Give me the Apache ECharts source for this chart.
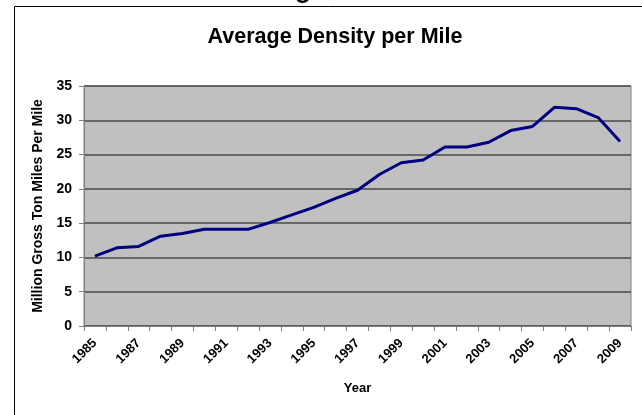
<!DOCTYPE html>
<html>
<head>
<meta charset="utf-8">
<script src="https://cdn.jsdelivr.net/npm/echarts@6/dist/echarts.min.js"></script>
<style>
html,body{margin:0;padding:0;background:#fff;}
#tu{width:642px;height:415px;}
</style>
</head>
<body>
<div id="tu"></div>
<script>
// 年份
var years = ['1985','1986','1987','1988','1989','1990','1991','1992','1993','1994','1995','1996','1997',
             '1998','1999','2000','2001','2002','2003','2004','2005','2006','2007','2008','2009'];
// 每英里平均密度（百万毛吨英里）
var density = [10.2, 11.4, 11.6, 13.1, 13.5, 14.1, 14.1, 14.1, 15.1, 16.2, 17.3, 18.6, 19.8,
               22.1, 23.8, 24.2, 26.1, 26.1, 26.8, 28.5, 29.1, 31.9, 31.7, 30.4, 26.9];

var font = 'Liberation Sans, Arial, sans-serif';
var myChart = echarts.init(document.getElementById('tu'));
var option = {
    animation: false,
    backgroundColor: '#fff',
    title: {
        text: 'Average Density per Mile',
        left: 330,
        textAlign: 'center',
        top: 21,
        textStyle: {color: '#000', fontSize: 21.5, fontWeight: 'bold', fontFamily: font}
    },
    graphic: [
        { // 外框
            type: 'rect',
            shape: {x: 14.5, y: 6.5, width: 700, height: 500},
            style: {fill: 'none', stroke: '#000', lineWidth: 1},
            silent: true
        },
        { // 上方被截断的标题
            type: 'text',
            x: 303, y: 4,
            style: {text: 'g', fill: '#000', font: 'bold 26px ' + font, textAlign: 'center', textVerticalAlign: 'bottom'},
            silent: true
        }
    ],
    grid: {
        left: 84, right: 11, top: 86, bottom: 89,
        show: true,
        backgroundColor: '#C0C0C0',
        borderColor: '#808080',
        borderWidth: 1
    },
    xAxis: {
        type: 'category',
        data: years,
        boundaryGap: true,
        name: 'Year',
        nameLocation: 'middle',
        nameGap: 56,
        nameTextStyle: {color: '#000', fontSize: 13, fontWeight: 'bold', fontFamily: font},
        axisLine: {lineStyle: {color: '#808080', width: 1}},
        axisTick: {show: true, interval: 0, length: 5, lineStyle: {color: '#808080'}},
        axisLabel: {interval: 1, rotate: 45, margin: 15, color: '#000', fontSize: 13, fontWeight: 'bold', fontFamily: font},
        splitLine: {show: false}
    },
    yAxis: {
        type: 'value',
        min: 0, max: 35, interval: 5,
        name: 'Million Gross Ton Miles Per Mile',
        nameLocation: 'middle',
        nameGap: 39,
        nameRotate: 90,
        nameTextStyle: {color: '#000', fontSize: 14, fontWeight: 'bold', fontFamily: font},
        axisLine: {show: true, lineStyle: {color: '#808080', width: 1}},
        axisTick: {show: true, length: 5, lineStyle: {color: '#808080'}},
        axisLabel: {margin: 12, color: '#000', fontSize: 14, fontWeight: 'bold', fontFamily: font},
        splitLine: {show: true, lineStyle: {color: '#4a4a4a', width: 1.5}}
    },
    series: [{
        type: 'line',
        data: density,
        symbol: 'none',
        lineStyle: {color: '#000080', width: 3},
        itemStyle: {color: '#000080'}
    }]
};
myChart.setOption(option);
</script>
</body>
</html>
